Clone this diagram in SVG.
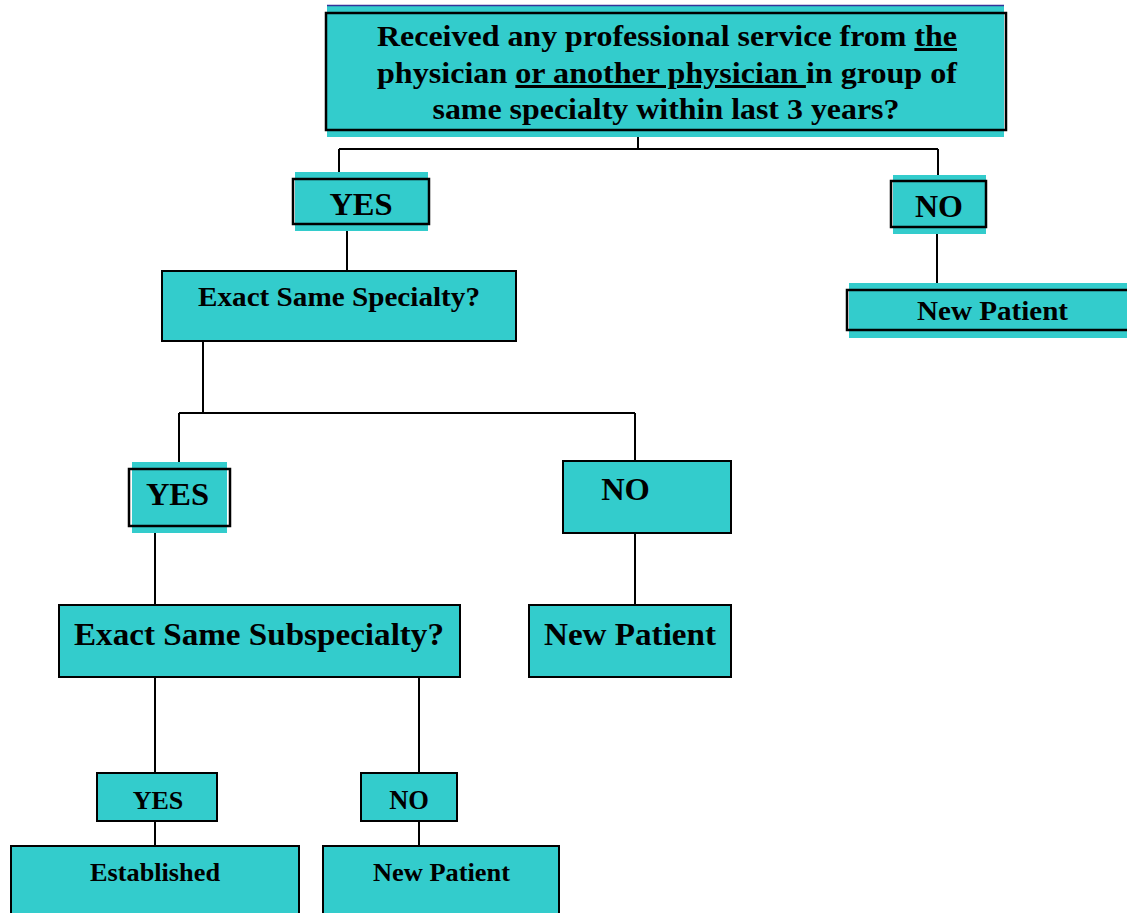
<svg xmlns="http://www.w3.org/2000/svg" width="1127" height="913" viewBox="0 0 1127 913">
<style>
.fill{fill:#33CCCC;stroke:none}
.box{fill:#33CCCC;stroke:#000;stroke-width:2}
.frame{fill:none;stroke:#000;stroke-width:2.5}
.t{font-family:"Liberation Serif","Times New Roman",serif;font-weight:bold;fill:#000;text-anchor:middle}
.c{stroke:#000;stroke-width:2;fill:none}
</style>
<rect width="1127" height="913" fill="#fff"/>
<g id="connectors">
<path class="c" d="M638 130V149M339 149H938M339 149V179M938 149V181"/>
<path class="c" d="M347 231V271M937 234V290"/>
<path class="c" d="M203 341V413M179 413H635M179 413V469M635 413V461"/>
<path class="c" d="M155 533V605M635 533V605"/>
<path class="c" d="M155 677V773M419 677V773M155 821V846M419 821V846"/>
</g>
<g id="q1">
<rect class="fill" x="327" y="5" width="677" height="132"/>
<line x1="327" y1="5.5" x2="1004" y2="5.5" stroke="#333399" stroke-width="1.5"/>
<rect class="frame" x="326" y="13" width="680" height="117"/>
<text class="t" font-size="30"><tspan x="667" y="46" textLength="580" lengthAdjust="spacingAndGlyphs">Received any professional service from <tspan text-decoration="underline">the</tspan></tspan><tspan x="667" y="83" textLength="580" lengthAdjust="spacingAndGlyphs">physician <tspan text-decoration="underline">or another physician </tspan>in group of</tspan><tspan x="666" y="119" textLength="467" lengthAdjust="spacingAndGlyphs">same specialty within last 3 years?</tspan></text>
</g>
<g id="yes1">
<rect class="fill" x="295" y="172" width="133" height="59"/>
<rect class="frame" x="293" y="179" width="136" height="45"/>
<text class="t" x="361" y="215" font-size="32.5">YES</text>
</g>
<g id="no1">
<rect class="fill" x="893" y="175" width="93" height="59"/>
<rect class="frame" x="891" y="181" width="95" height="46"/>
<text class="t" x="939" y="217" font-size="32">NO</text>
</g>
<g id="newpatient1">
<rect class="fill" x="849" y="283" width="278" height="55"/>
<rect class="frame" x="847" y="290" width="282" height="40"/>
<text class="t" x="992.5" y="320" font-size="27" textLength="151" lengthAdjust="spacingAndGlyphs">New Patient</text>
</g>
<g id="q2">
<rect class="box" x="162" y="271" width="354" height="70"/>
<text class="t" x="339" y="306" font-size="27" textLength="282" lengthAdjust="spacingAndGlyphs">Exact Same Specialty?</text>
</g>
<g id="yes2">
<rect class="fill" x="132" y="462" width="95" height="71"/>
<rect class="frame" x="129" y="469" width="101" height="57"/>
<text class="t" x="177.5" y="505" font-size="32.5">YES</text>
</g>
<g id="no2">
<rect class="box" x="563" y="461" width="168" height="72"/>
<text class="t" x="625.5" y="500" font-size="32.5">NO</text>
</g>
<g id="q3">
<rect class="box" x="59" y="605" width="401" height="72"/>
<text class="t" x="259" y="645" font-size="32" textLength="370" lengthAdjust="spacingAndGlyphs">Exact Same Subspecialty?</text>
</g>
<g id="newpatient2">
<rect class="box" x="529" y="605" width="202" height="72"/>
<text class="t" x="630" y="645" font-size="32" textLength="172" lengthAdjust="spacingAndGlyphs">New Patient</text>
</g>
<g id="yes3">
<rect class="box" x="97" y="773" width="120" height="48"/>
<text class="t" x="158" y="809" font-size="26">YES</text>
</g>
<g id="no3">
<rect class="box" x="361" y="773" width="96" height="48"/>
<text class="t" x="409" y="809" font-size="26.5">NO</text>
</g>
<g id="established">
<rect class="box" x="11" y="846" width="288" height="80"/>
<text class="t" x="155" y="881" font-size="26" textLength="130" lengthAdjust="spacingAndGlyphs">Established</text>
</g>
<g id="newpatient3">
<rect class="box" x="323" y="846" width="236" height="80"/>
<text class="t" x="441.5" y="881" font-size="26" textLength="137" lengthAdjust="spacingAndGlyphs">New Patient</text>
</g>
</svg>
